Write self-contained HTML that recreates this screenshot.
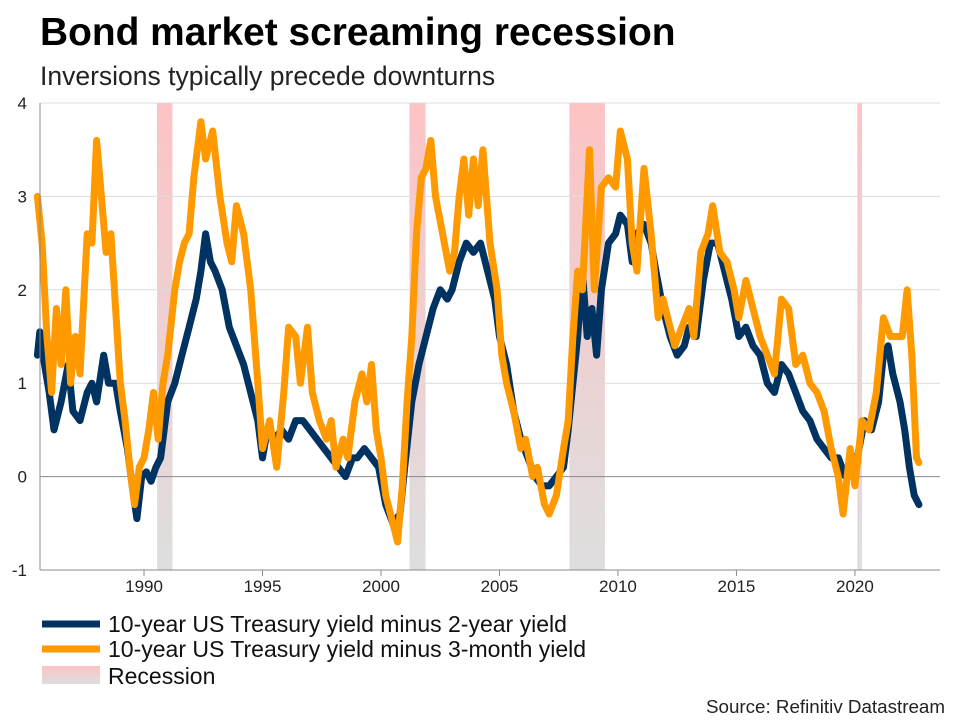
<!DOCTYPE html>
<html><head><meta charset="utf-8"><style>
body{margin:0;background:#fff;font-family:"Liberation Sans",sans-serif;}
#wrap{position:relative;width:960px;height:720px;overflow:hidden;}
</style></head><body>
<div id="wrap">
<svg id="svg" width="960" height="720">
<defs><linearGradient id="rg" x1="0" y1="0" x2="0" y2="1"><stop offset="0" stop-color="#fdc3c4"/><stop offset="1" stop-color="#dedede"/></linearGradient></defs>
<text x="40" y="45" font-size="38.9" font-weight="bold" fill="#000">Bond market screaming recession</text>
<text x="40" y="85" font-size="26.5" fill="#222">Inversions typically precede downturns</text>
<g id="rec"></g><g id="grid"></g><g id="series"></g><g id="axes"></g>
<g>
<line x1="42" y1="624" x2="100" y2="624" stroke="#003262" stroke-width="7"/>
<text x="108" y="632" font-size="23" fill="#111">10-year US Treasury yield minus 2-year yield</text>
<line x1="42" y1="649" x2="100" y2="649" stroke="#ff9900" stroke-width="7"/>
<text x="108" y="657" font-size="23" fill="#111">10-year US Treasury yield minus 3-month yield</text>
<rect x="42" y="666" width="58" height="18" fill="url(#rg)"/>
<text x="108" y="684" font-size="23" fill="#111">Recession</text>
</g>
<text x="945" y="713" font-size="18.8" fill="#222" text-anchor="end">Source: Refinitiv Datastream</text>
</svg></div>
<script>
const yTicks=[-1,0,1,2,3,4];
const xTickYears=[1990,1995,2000,2005,2010,2015,2020];
const recessions=[[1990.55,1991.2],[2001.2,2001.88],[2007.95,2009.45],[2020.1,2020.3]];
const blueYears=[1985.5,1985.6,1985.8,1986.0,1986.2,1986.5,1986.8,1987.0,1987.3,1987.6,1987.8,1988.0,1988.3,1988.5,1988.8,1989.0,1989.3,1989.5,1989.7,1989.9,1990.1,1990.3,1990.5,1990.7,1991.0,1991.3,1991.6,1991.9,1992.2,1992.4,1992.6,1992.8,1993.0,1993.3,1993.6,1993.9,1994.2,1994.5,1994.8,1995.0,1995.2,1995.5,1995.8,1996.1,1996.4,1996.7,1997.0,1997.3,1997.6,1997.9,1998.2,1998.5,1998.8,1999.0,1999.3,1999.6,1999.9,2000.2,2000.5,2000.8,2001.0,2001.3,2001.6,2001.9,2002.2,2002.5,2002.8,2003.0,2003.3,2003.6,2003.9,2004.2,2004.5,2004.8,2005.0,2005.3,2005.6,2005.9,2006.2,2006.5,2006.8,2007.1,2007.4,2007.7,2007.9,2008.1,2008.3,2008.5,2008.7,2008.9,2009.1,2009.3,2009.6,2009.9,2010.1,2010.4,2010.6,2010.8,2011.1,2011.4,2011.6,2011.9,2012.2,2012.5,2012.8,2013.0,2013.3,2013.6,2013.9,2014.2,2014.5,2014.8,2015.1,2015.4,2015.7,2016.0,2016.3,2016.6,2016.9,2017.2,2017.5,2017.8,2018.1,2018.4,2018.7,2019.0,2019.3,2019.6,2019.9,2020.1,2020.4,2020.7,2021.0,2021.2,2021.4,2021.6,2021.9,2022.1,2022.3,2022.5,2022.7];
const blueValues=[1.3,1.55,1.2,0.9,0.5,0.8,1.2,0.7,0.6,0.9,1.0,0.8,1.3,1.0,1.0,0.7,0.3,-0.1,-0.45,0.0,0.05,-0.05,0.1,0.2,0.8,1.0,1.3,1.6,1.9,2.2,2.6,2.3,2.2,2.0,1.6,1.4,1.2,0.9,0.6,0.2,0.5,0.4,0.5,0.4,0.6,0.6,0.5,0.4,0.3,0.2,0.1,0.0,0.2,0.2,0.3,0.2,0.1,-0.3,-0.5,-0.4,0.1,0.8,1.2,1.5,1.8,2.0,1.9,2.0,2.3,2.5,2.4,2.5,2.2,1.9,1.5,1.2,0.7,0.4,0.2,0.0,-0.1,-0.1,0.0,0.1,0.5,1.0,1.5,2.2,1.5,1.8,1.3,2.0,2.5,2.6,2.8,2.7,2.3,2.6,2.7,2.5,2.2,1.8,1.5,1.3,1.4,1.6,1.5,2.1,2.5,2.5,2.2,1.9,1.5,1.6,1.4,1.3,1.0,0.9,1.2,1.1,0.9,0.7,0.6,0.4,0.3,0.2,0.2,0.0,0.2,0.2,0.6,0.5,0.8,1.3,1.4,1.1,0.8,0.5,0.1,-0.2,-0.3];
const orangeYears=[1985.5,1985.7,1985.9,1986.1,1986.3,1986.5,1986.7,1986.9,1987.1,1987.3,1987.6,1987.8,1988.0,1988.2,1988.4,1988.6,1988.8,1989.0,1989.2,1989.4,1989.6,1989.8,1990.0,1990.2,1990.4,1990.6,1990.8,1991.0,1991.3,1991.5,1991.7,1991.9,1992.1,1992.4,1992.6,1992.9,1993.2,1993.5,1993.7,1993.9,1994.2,1994.5,1994.8,1995.0,1995.3,1995.6,1995.9,1996.1,1996.4,1996.6,1996.9,1997.1,1997.4,1997.7,1997.9,1998.1,1998.4,1998.6,1998.9,1999.2,1999.4,1999.6,1999.8,2000.0,2000.2,2000.4,2000.7,2000.9,2001.1,2001.3,2001.5,2001.7,2001.9,2002.1,2002.3,2002.6,2002.9,2003.1,2003.3,2003.5,2003.7,2003.9,2004.1,2004.3,2004.6,2004.9,2005.1,2005.3,2005.6,2005.9,2006.1,2006.4,2006.6,2006.9,2007.1,2007.4,2007.7,2007.9,2008.1,2008.3,2008.5,2008.8,2009.0,2009.3,2009.6,2009.9,2010.1,2010.4,2010.6,2010.8,2011.1,2011.4,2011.7,2011.9,2012.1,2012.4,2012.7,2013.0,2013.2,2013.5,2013.8,2014.0,2014.3,2014.6,2014.9,2015.1,2015.4,2015.7,2016.0,2016.3,2016.6,2016.9,2017.2,2017.5,2017.8,2018.1,2018.4,2018.7,2019.0,2019.3,2019.5,2019.8,2020.0,2020.3,2020.6,2020.9,2021.2,2021.5,2021.8,2022.0,2022.2,2022.4,2022.6,2022.7];
const orangeValues=[3.0,2.5,1.5,0.9,1.8,1.2,2.0,1.0,1.5,1.1,2.6,2.5,3.6,3.0,2.4,2.6,1.8,1.0,0.6,0.1,-0.3,0.1,0.2,0.5,0.9,0.4,1.0,1.3,2.0,2.3,2.5,2.6,3.2,3.8,3.4,3.7,3.0,2.5,2.3,2.9,2.6,2.0,1.0,0.3,0.6,0.1,0.9,1.6,1.5,1.0,1.6,0.9,0.6,0.4,0.6,0.1,0.4,0.2,0.8,1.1,0.8,1.2,0.5,0.2,-0.2,-0.4,-0.7,-0.1,0.8,1.5,2.6,3.2,3.3,3.6,3.0,2.6,2.2,2.4,3.0,3.4,2.8,3.4,2.9,3.5,2.5,2.0,1.3,1.0,0.7,0.3,0.4,0.0,0.1,-0.3,-0.4,-0.2,0.3,0.6,1.5,2.2,2.0,3.5,2.0,3.1,3.2,3.1,3.7,3.4,2.5,2.2,3.3,2.6,1.7,1.9,1.7,1.4,1.6,1.8,1.5,2.4,2.6,2.9,2.4,2.3,2.0,1.7,2.1,1.8,1.5,1.3,1.1,1.9,1.8,1.2,1.3,1.0,0.9,0.7,0.3,0.0,-0.4,0.3,-0.1,0.6,0.5,0.9,1.7,1.5,1.5,1.5,2.0,1.3,0.2,0.15];
const NS='http://www.w3.org/2000/svg';
const L=40,R=940,T=103,B=570,X0=1985.61,X1=2023.59;
function xs(v){return L+(v-X0)/(X1-X0)*(R-L);}
function ys(v){return B-(v+1)/5*(B-T);}
function mk(tag,attrs,parent){const e=document.createElementNS(NS,tag);for(const k in attrs)e.setAttribute(k,attrs[k]);document.getElementById(parent).appendChild(e);return e;}
recessions.forEach(r=>{const e=mk('rect',{x:xs(r[0]),y:T,width:xs(r[1])-xs(r[0]),height:B-T,fill:'url(#rg)'},'rec');

});
yTicks.forEach(t=>{if(t!==-1){const g=mk('line',{x1:L,x2:R,y1:ys(t),y2:ys(t),stroke:t===0?'#8a8a8a':'#dcdcdc','stroke-width':1},'grid');

}
const tx=mk('text',{x:27,y:ys(t)+6,'font-size':17,fill:'#222','text-anchor':'end'},'axes');tx.textContent=t;

});
const ya=mk('line',{x1:L,x2:L,y1:T,y2:B,stroke:'#8a8a8a'},'axes');


const xa=mk('line',{x1:L,x2:R,y1:B,y2:B,stroke:'#8a8a8a'},'axes');


xTickYears.forEach(y=>{const t=mk('line',{x1:xs(y),x2:xs(y),y1:B,y2:B+6,stroke:'#8a8a8a'},'axes');


const tx=mk('text',{x:xs(y),y:B+22,'font-size':17,fill:'#222','text-anchor':'middle'},'axes');tx.textContent=y;

});
function line(xsArr,vs,color,name){const d=xsArr.map((x,i)=>(i?'L':'M')+xs(x).toFixed(1)+','+ys(vs[i]).toFixed(1)).join('');
const p=mk('path',{d:d,fill:'none',stroke:color,'stroke-width':7,'stroke-linejoin':'round','stroke-linecap':'round'},'series');

}
line(blueYears,blueValues,'#003262','series-10y-minus-2y');
line(orangeYears,orangeValues,'#ff9900','series-10y-minus-3m');
</script>
</body></html>
